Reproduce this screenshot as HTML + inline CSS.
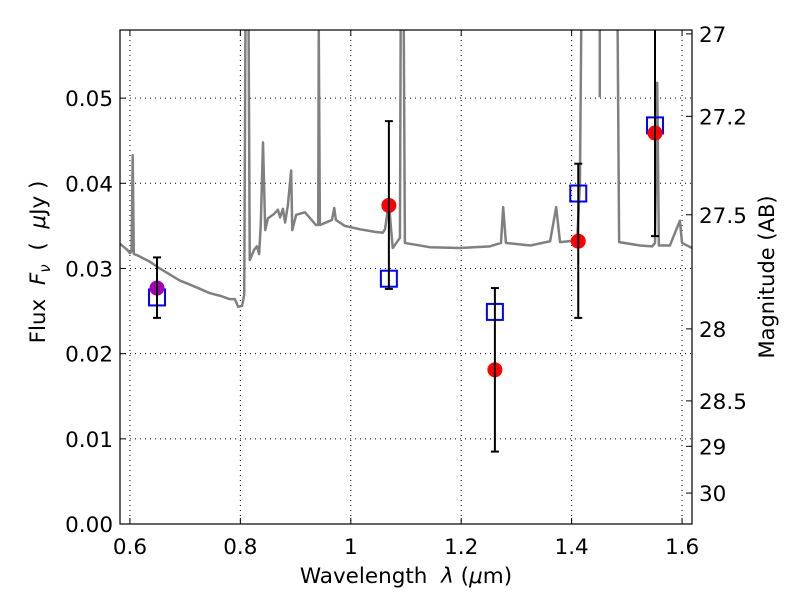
<!DOCTYPE html>
<html><head><meta charset="utf-8"><style>
body{margin:0;background:#fff;overflow:hidden}
svg{display:block;font-family:"DejaVu Sans","Liberation Sans",sans-serif}
</style></head><body>
<svg id="chart" width="800" height="600" viewBox="0 0 800 600" xmlns="http://www.w3.org/2000/svg">
<rect width="800" height="600" fill="#fff"/>
<defs><clipPath id="clip"><rect x="120" y="30" width="572" height="494"/></clipPath></defs>
<g id="grid"></g>
<g id="spec"></g>
<g id="marks"></g>
<g id="axes"></g>
<text x="406" y="583" font-size="21.5" text-anchor="middle" xml:space="preserve">Wavelength  <tspan font-style="italic">λ</tspan> (<tspan font-style="italic">μ</tspan>m)</text>
<text transform="translate(45,262) rotate(-90)" font-size="21.5" text-anchor="middle" xml:space="preserve">Flux  <tspan font-style="italic">F</tspan><tspan font-style="italic" font-size="15" dy="5">ν</tspan><tspan dy="-5">  (  </tspan><tspan font-style="italic">μ</tspan>Jy )</text>
<text transform="translate(774,277) rotate(-90)" font-size="21" text-anchor="middle">Magnitude (AB)</text>
</svg>
<script>
const specWave=[0.582,0.595,0.600,0.603,0.605,0.607,0.615,0.636,0.654,0.672,0.690,0.709,0.727,0.745,0.763,0.781,0.790,0.796,0.803,0.807,0.810,0.814,0.817,0.825,0.830,0.834,0.837,0.841,0.845,0.850,0.861,0.868,0.872,0.877,0.881,0.886,0.892,0.894,0.901,0.917,0.937,0.941,0.942,0.944,0.966,0.970,0.973,0.989,1.017,1.044,1.058,1.062,1.069,1.073,1.076,1.089,1.091,1.095,1.098,1.143,1.198,1.252,1.272,1.276,1.281,1.325,1.361,1.372,1.379,1.410,1.415,1.419,1.482,1.486,1.524,1.546,1.551,1.555,1.558,1.578,1.596,1.600,1.618];
const specFlux=[0.0329,0.0322,0.0318,0.0320,0.0433,0.0317,0.0315,0.0308,0.0300,0.0293,0.0286,0.0281,0.0276,0.0271,0.0268,0.0264,0.0264,0.0255,0.0256,0.0269,0.07,0.07,0.0310,0.0322,0.0326,0.0317,0.0352,0.0448,0.0345,0.0359,0.0364,0.0369,0.0360,0.0370,0.0354,0.0374,0.0415,0.0345,0.0363,0.0366,0.0351,0.0351,0.0579,0.0351,0.0357,0.0371,0.0357,0.0350,0.0346,0.0343,0.0342,0.0346,0.0378,0.0346,0.0324,0.0336,0.07,0.07,0.0330,0.0325,0.0324,0.0326,0.0330,0.0372,0.0330,0.0327,0.0332,0.0372,0.0331,0.0333,0.0400,0.07,0.07,0.0331,0.0327,0.0326,0.0330,0.0518,0.0327,0.0327,0.0356,0.0330,0.0324];
const segWave=[1.451,1.451];
const segFlux=[0.07,0.0501];
const obsWave=[0.649,1.069,1.261,1.412,1.551];
const obsFlux=[0.0277,0.0374,0.0181,0.0332,0.0459];
const obsHi=[0.0313,0.0473,0.0277,0.0423,0.07];
const obsLo=[0.0242,0.0276,0.0085,0.0242,0.0338];
const obsColor=['#a000b0','red','red','red','red'];
const modelFlux=[0.0266,0.0288,0.0249,0.0388,0.0468];
const xTicks=[0.6,0.8,1.0,1.2,1.4,1.6];
const xTickLabels=['0.6','0.8','1','1.2','1.4','1.6'];
const yTicks=[0,0.01,0.02,0.03,0.04,0.05];
const yTickLabels=['0.00','0.01','0.02','0.03','0.04','0.05'];
const magTicks=[27,27.2,27.5,28,28.5,29,30];
const magLabels=['27','27.2','27.5','28','28.5','29','30'];

const L=120,R=692,T=30,B=524;
const X0=0.582,X1=1.618,Y0=0,Y1=0.058;
const sx=v=>L+(v-X0)/(X1-X0)*(R-L);
const sy=v=>B-(v-Y0)/(Y1-Y0)*(B-T);
const magToFlux=m=>Math.pow(10,(23.9-m)/2.5);
const NS='http://www.w3.org/2000/svg';
function mk(parent,tag,attrs){const e=document.createElementNS(NS,tag);for(const k in attrs)e.setAttribute(k,attrs[k]);parent.appendChild(e);return e;}
const grid=document.getElementById('grid'),spec=document.getElementById('spec'),marks=document.getElementById('marks'),axes=document.getElementById('axes');
xTicks.forEach((t,i)=>{
  const g=mk(grid,'line',{x1:sx(t),x2:sx(t),y1:T,y2:B,stroke:'#000','stroke-width':1,'stroke-dasharray':'1,4'});
  
  
  mk(axes,'line',{x1:sx(t),x2:sx(t),y1:B,y2:B-6,stroke:'#000'});
  mk(axes,'line',{x1:sx(t),x2:sx(t),y1:T,y2:T+6,stroke:'#000'});
  const tx=mk(axes,'text',{x:sx(t),y:B+30,'font-size':21.5,'text-anchor':'middle'});tx.textContent=xTickLabels[i];
  
  
});
yTicks.forEach((t,i)=>{
  if(t>0){const g=mk(grid,'line',{x1:L,x2:R,y1:sy(t),y2:sy(t),stroke:'#000','stroke-width':1,'stroke-dasharray':'1,4'});
  
  }
  mk(axes,'line',{x1:L,x2:L+6,y1:sy(t),y2:sy(t),stroke:'#000'});
  const tx=mk(axes,'text',{x:L-7,y:sy(t)+8,'font-size':21.5,'text-anchor':'end'});tx.textContent=yTickLabels[i];
  
  
});
magTicks.forEach((m,i)=>{
  const y=sy(magToFlux(m));
  mk(axes,'line',{x1:R,x2:R-6,y1:y,y2:y,stroke:'#000'});
  const tx=mk(axes,'text',{x:R+7,y:y+8,'font-size':21.5});tx.textContent=magLabels[i];
  
  
});
const cg=mk(spec,'g',{'clip-path':'url(#clip)'});
const p=mk(cg,'polyline',{points:specWave.map((w,i)=>sx(w)+','+sy(specFlux[i])).join(' '),fill:'none',stroke:'#808080','stroke-width':2.5,'stroke-linejoin':'round'});


mk(cg,'polyline',{points:segWave.map((w,i)=>sx(w)+','+sy(segFlux[i])).join(' '),fill:'none',stroke:'#808080','stroke-width':2.5});
const mg=mk(marks,'g',{'clip-path':'url(#clip)'});
obsWave.forEach((w,i)=>{
  const x=sx(w);
  const s=mk(mg,'rect',{x:x-8,y:sy(modelFlux[i])-8,width:16,height:16,fill:'none',stroke:'#0000ff','stroke-width':2});
  
  
  const c=mk(mg,'circle',{cx:x,cy:sy(obsFlux[i]),r:7.5,fill:obsColor[i]});
  
  
  const e=mk(mg,'g',{stroke:'#000','stroke-width':2});
  
  
  mk(e,'line',{x1:x,x2:x,y1:sy(obsHi[i]),y2:sy(obsLo[i])});
  mk(e,'line',{x1:x-4,x2:x+4,y1:sy(obsHi[i]),y2:sy(obsHi[i])});
  mk(e,'line',{x1:x-4,x2:x+4,y1:sy(obsLo[i]),y2:sy(obsLo[i])});
});
mk(axes,'rect',{x:L,y:T,width:R-L,height:B-T,fill:'none',stroke:'#000','stroke-width':1.2});
</script>
</body></html>
